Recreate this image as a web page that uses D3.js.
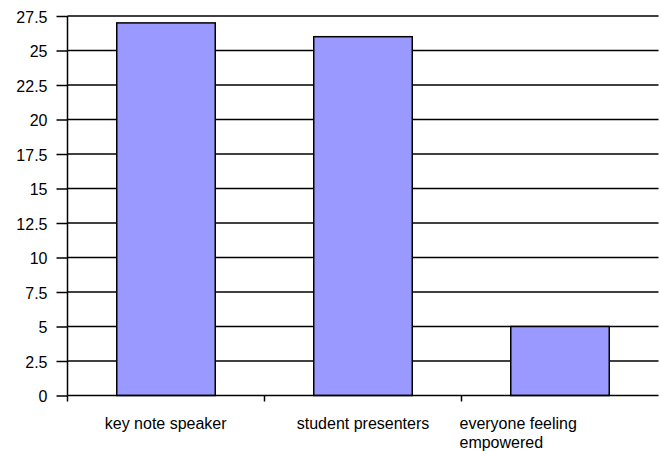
<!DOCTYPE html>
<html>
<head>
<meta charset="utf-8">
<script src="https://cdn.jsdelivr.net/npm/d3@7/dist/d3.min.js"></script>
<style>
  html, body { margin: 0; padding: 0; background: #fff; }
  svg { display: block; font-family: "Liberation Sans", Arial, sans-serif; }
</style>
</head>
<body>
<svg id="chart" width="660" height="451"></svg>
<script>
// Survey responses per category
const categories = ["key note speaker", "student presenters", "everyone feeling empowered"];
const labelLines = [["key note speaker"], ["student presenters"], ["everyone feeling", "empowered"]];
const values = [27, 26, 5];
const yTicks = [0, 2.5, 5, 7.5, 10, 12.5, 15, 17.5, 20, 22.5, 25, 27.5];

const svg = d3.select("#chart");
const margin = { left: 67.5, right: 1.5, top: 16, bottom: 55.5 };
const W = 660, H = 451;

const x = d3.scaleBand()
  .domain(categories)
  .range([margin.left, W - margin.right])
  .paddingInner(0.5)
  .paddingOuter(0.25);

const y = d3.scaleLinear()
  .domain([0, 27.5])
  .range([H - margin.bottom, margin.top]);

// horizontal gridlines
svg.append("g")
  .selectAll("line")
  .data(yTicks.filter(t => t > 0))
  .join("line")
  .attr("x1", margin.left)
  .attr("x2", W - margin.right)
  .attr("y1", d => y(d))
  .attr("y2", d => y(d))
  .attr("stroke", "#000")
  .attr("stroke-width", 1.5);

// bars
svg.append("g")
  .selectAll("rect")
  .data(values)
  .join("rect")
  .attr("x", (d, i) => x(categories[i]))
  .attr("y", d => y(d))
  .attr("width", x.bandwidth())
  .attr("height", d => y(0) - y(d))
  .attr("fill", "#9999FF")
  .attr("stroke", "#000")
  .attr("stroke-width", 1.5);

// y axis
const yAxis = d3.axisLeft(y)
  .tickValues(yTicks)
  .tickFormat(d => String(d))
  .tickSize(11)
  .tickPadding(9);

const gy = svg.append("g")
  .attr("transform", `translate(${margin.left},0)`)
  .call(yAxis);
gy.select(".domain").attr("stroke-width", 1.5).attr("d", `M0,${y(0)}V${y(27.5)}`);
gy.selectAll(".tick line").attr("stroke-width", 1.5);
gy.selectAll(".tick text")
  .attr("font-size", 16)
  .attr("dy", "0.38em")
  .attr("font-family", "Liberation Sans, Arial, sans-serif")
  .attr("fill", "#000");

// x axis baseline and category separators
svg.append("line")
  .attr("x1", margin.left)
  .attr("x2", W - margin.right)
  .attr("y1", y(0))
  .attr("y2", y(0))
  .attr("stroke", "#000")
  .attr("stroke-width", 1.5);

const sepX = categories.map((c, i) => margin.left + i * ((W - margin.right - margin.left) / categories.length));
svg.append("g")
  .selectAll("line")
  .data(sepX)
  .join("line")
  .attr("x1", d => d)
  .attr("x2", d => d)
  .attr("y1", y(0))
  .attr("y2", y(0) + 6)
  .attr("stroke", "#000")
  .attr("stroke-width", 1.5);

// category labels
const lab = svg.append("g")
  .selectAll("text")
  .data(categories)
  .join("text")
  .attr("font-size", 16)
  .attr("fill", "#000")
  .attr("y", y(0) + 33.5);

lab.each(function(c, i) {
  const t = d3.select(this);
  const cx = x(c) + x.bandwidth() / 2;
  const lines = labelLines[i];
  lines.forEach((ln, j) => {
    t.append("tspan").attr("dy", j === 0 ? 0 : 19).text(ln);
  });
  // block is centred on the bar, lines share the same left edge
  const w = this.getBBox().width;
  const left = cx - w / 2;
  t.selectAll("tspan").attr("x", left);
});
</script>
</body>
</html>
